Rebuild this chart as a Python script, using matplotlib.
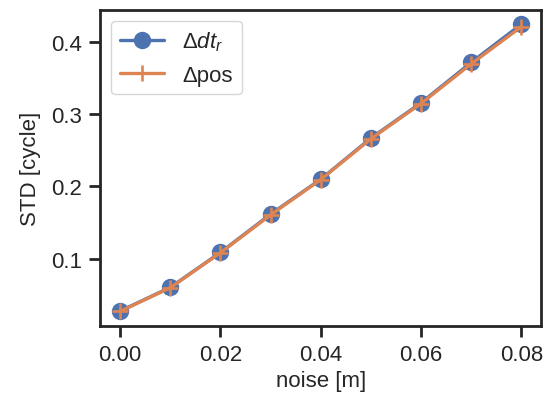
import matplotlib
matplotlib.use("Agg")
import matplotlib.pyplot as plt
import seaborn as sns

noise = [0.00, 0.01, 0.02, 0.03, 0.04, 0.05, 0.06, 0.07, 0.08]
std_dtr = [0.0272, 0.0600, 0.1085, 0.1615, 0.2100, 0.2670, 0.3160, 0.3720, 0.4250]
std_pos = [0.0268, 0.0595, 0.1080, 0.1605, 0.2095, 0.2660, 0.3150, 0.3700, 0.4215]

sns.set_theme(style="ticks")
plt.rcParams['font.family'] = ['Liberation Sans', 'DejaVu Sans']
plt.rcParams['mathtext.fontset'] = 'custom'
plt.rcParams['mathtext.rm'] = 'Liberation Sans'
plt.rcParams['mathtext.it'] = 'Liberation Sans:italic'

fig, ax = plt.subplots(figsize=(5.48, 4.02), dpi=100)
c0, c1 = sns.color_palette()[0], sns.color_palette()[1]
ax.plot(noise, std_dtr, marker='o', markersize=11.5, lw=2.4, color=c0, label=r'$\Delta dt_r$')
ax.plot(noise, std_pos, marker='+', markersize=11, mew=1.9, lw=2.4, color=c1, label='Δpos')

ax.set_xticks([0.00, 0.02, 0.04, 0.06, 0.08])
ax.set_xticklabels(['0.00', '0.02', '0.04', '0.06', '0.08'])
ax.set_yticks([0.1, 0.2, 0.3, 0.4])
ax.tick_params(labelsize=16, length=8, width=2, pad=5)
for s in ax.spines.values():
    s.set_linewidth(2)
ax.set_xlabel('noise [m]', fontsize=16)
ax.set_ylabel('STD [cycle]', fontsize=16, labelpad=7)
ax.legend(loc='upper left', fontsize=16)

fig.subplots_adjust(left=0.1825, right=0.988, top=0.973, bottom=0.1873)
fig.savefig('out.png', dpi=100)
